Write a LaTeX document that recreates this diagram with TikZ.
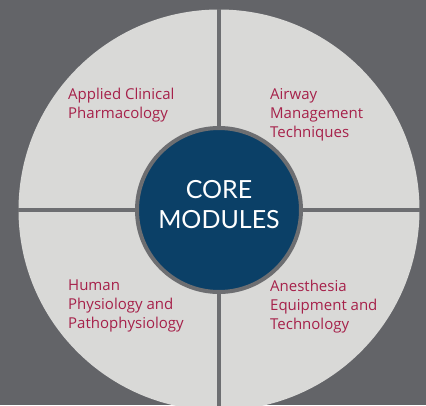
\documentclass[tikz,border=0pt]{standalone}
\usepackage{fontspec}
\newfontfamily\modulefont{Open Sans}
\newfontfamily\corefont{Lato}
\usetikzlibrary{positioning}
\definecolor{bggray}{HTML}{636468}
\definecolor{discgray}{HTML}{D9D9D7}
\definecolor{rulegray}{HTML}{6D6E71}
\definecolor{coreblue}{HTML}{0B4067}
\definecolor{modred}{HTML}{A6214A}

\begin{document}
\begin{tikzpicture}[x=1pt,y=1pt,
  module/.style={anchor=north west,align=left,inner sep=0pt,text=modred,
    font=\modulefont\fontsize{15}{19}\selectfont},
  divider/.style={rulegray,line width=4pt}]
\fill[bggray] (0,0) rectangle (426,-405);
\useasboundingbox (0,0) rectangle (426,-405);
\clip (0,0) rectangle (426,-405);
\node[circle,fill=discgray,inner sep=0pt,minimum size=401pt] (disc) at (219,-210) {};
\draw[divider] (disc.north) -- (disc.south);
\draw[divider] (disc.west) -- (disc.east);
\node[circle,fill=coreblue,draw=rulegray,line width=4pt,inner sep=0pt,minimum size=164pt,
  text=white,align=center,text depth=12pt,font=\corefont\fontsize{25}{30}\selectfont] (core) at (disc.center) {CORE\\MODULES};
\node[module] (pharma) at (68,-88) {Applied Clinical\\Pharmacology};
\node[module] (airway) at (270,-88) {Airway\\Management\\Techniques};
\node[module] (physio) at (68,-280) {Human\\Physiology and\\Pathophysiology};
\node[module] (equip) at (270,-280) {Anesthesia\\Equipment and\\Technology};
\end{tikzpicture}
\end{document}
